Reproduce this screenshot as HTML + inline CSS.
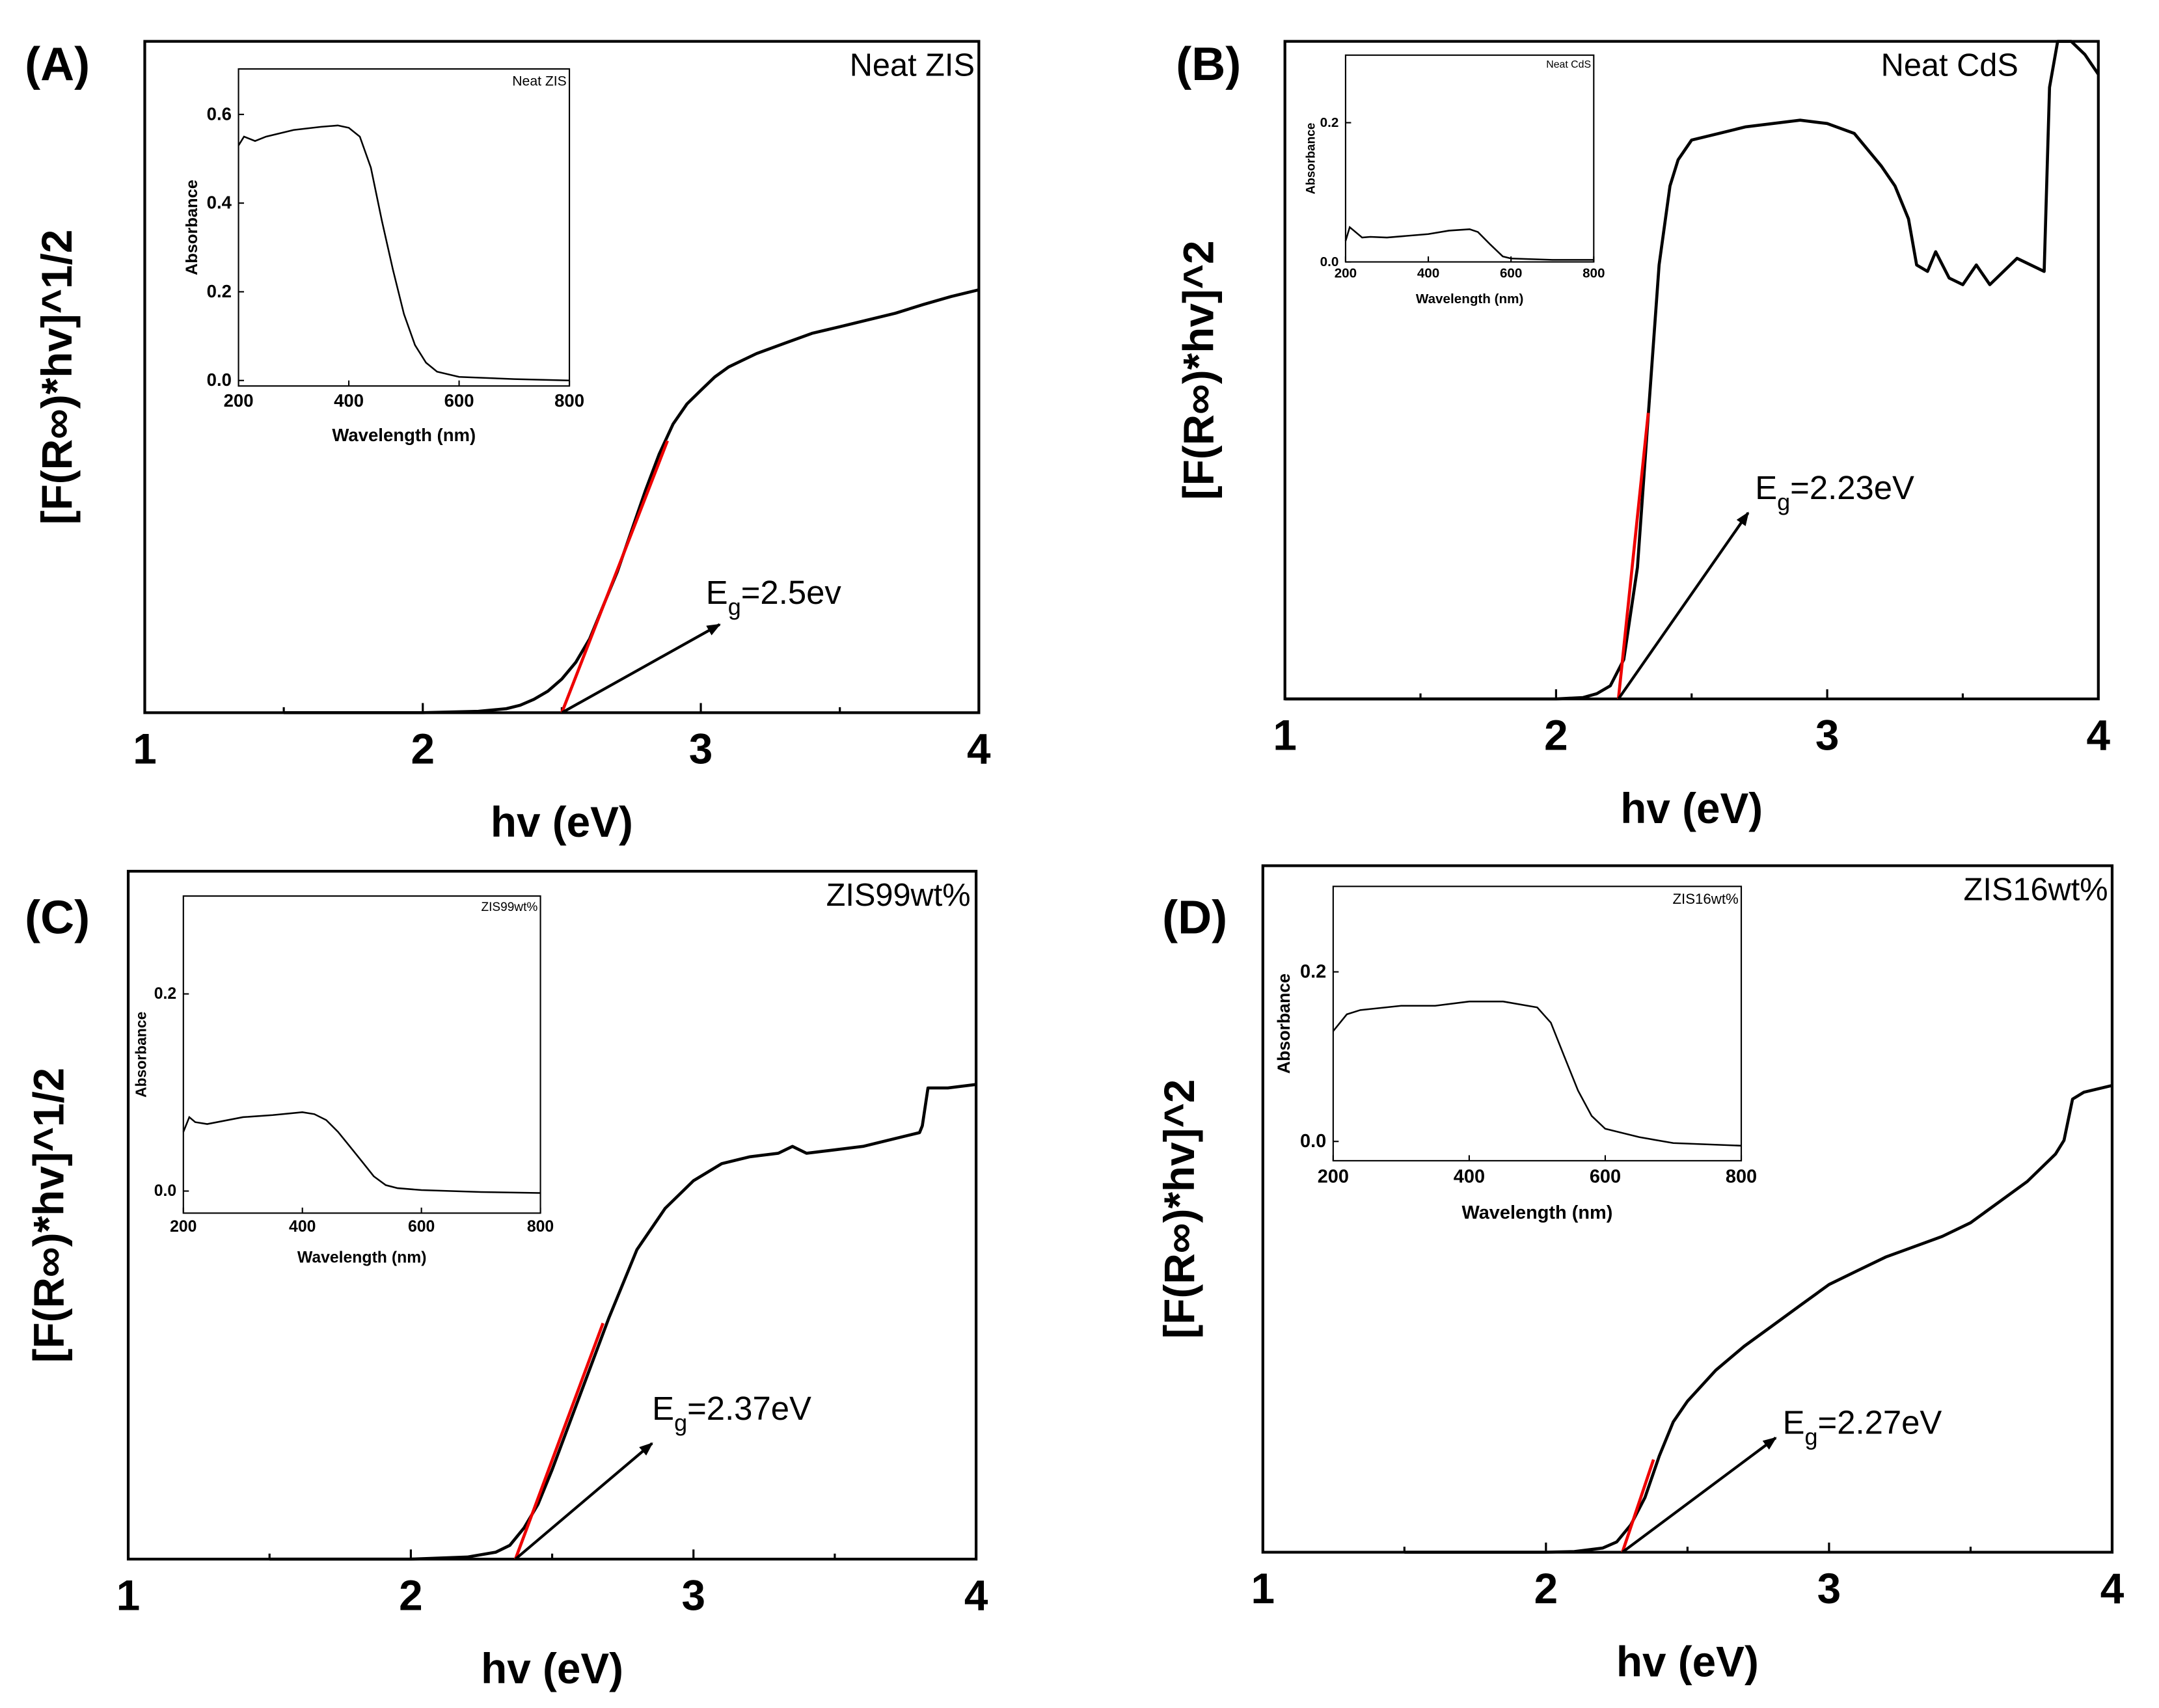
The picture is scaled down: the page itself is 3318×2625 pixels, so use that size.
<!DOCTYPE html>
<html><head><meta charset="utf-8"><style>
html,body{margin:0;padding:0;background:#fff}
svg{display:block}
text{font-family:"Liberation Sans Narrow","Liberation Sans",sans-serif}
</style></head><body>
<svg id="fig" width="3318" height="2625" viewBox="0 0 1566 1239" preserveAspectRatio="none" xmlns="http://www.w3.org/2000/svg">
<defs><marker id="ah" markerWidth="10" markerHeight="8" refX="9" refY="4" orient="auto" markerUnits="userSpaceOnUse"><path d="M0,0 L10,4 L0,8 Z" fill="#000"/></marker></defs>
</svg>
<script>
// ---- data: main panels (x in eV, y normalized 0..1) ----
const aX=[1.5,2.0,2.2,2.3,2.35,2.4,2.45,2.5,2.55,2.6,2.65,2.7,2.75,2.8,2.85,2.9,2.95,3.0,3.05,3.1,3.2,3.3,3.4,3.5,3.6,3.7,3.8,3.9,4.0];
const aY=[0,0,0.002,0.006,0.011,0.02,0.032,0.05,0.075,0.11,0.16,0.21,0.27,0.33,0.385,0.43,0.46,0.48,0.5,0.515,0.535,0.55,0.565,0.575,0.585,0.595,0.608,0.62,0.63];
const bX=[1.0,2.0,2.1,2.15,2.2,2.25,2.3,2.34,2.38,2.42,2.45,2.5,2.6,2.7,2.8,2.9,3.0,3.1,3.2,3.25,3.3,3.33,3.37,3.4,3.45,3.5,3.55,3.6,3.7,3.8,3.82,3.85,3.9,3.95,4.0];
const bY=[0,0,0.002,0.008,0.02,0.06,0.2,0.43,0.66,0.78,0.82,0.85,0.86,0.87,0.875,0.88,0.875,0.86,0.81,0.78,0.73,0.66,0.65,0.68,0.64,0.63,0.66,0.63,0.67,0.65,0.93,1.0,1.0,0.98,0.95];
const cX=[1.5,2.0,2.2,2.3,2.35,2.4,2.45,2.5,2.6,2.7,2.8,2.9,3.0,3.1,3.2,3.3,3.35,3.4,3.5,3.6,3.7,3.8,3.81,3.83,3.9,4.0];
const cY=[0,0,0.003,0.01,0.02,0.045,0.08,0.13,0.24,0.35,0.45,0.51,0.55,0.575,0.585,0.59,0.6,0.59,0.595,0.6,0.61,0.62,0.63,0.685,0.685,0.69];
const dX=[1.5,2.0,2.1,2.2,2.25,2.3,2.35,2.4,2.45,2.5,2.6,2.7,2.8,2.9,3.0,3.1,3.2,3.3,3.4,3.5,3.6,3.7,3.8,3.83,3.86,3.9,4.0];
const dY=[0,0,0.001,0.006,0.015,0.04,0.08,0.14,0.19,0.22,0.265,0.3,0.33,0.36,0.39,0.41,0.43,0.445,0.46,0.48,0.51,0.54,0.58,0.6,0.66,0.67,0.68];
// ---- data: insets (wavelength nm, absorbance) ----
const iaX=[200,210,220,230,250,300,350,380,400,420,440,460,480,500,520,540,560,600,700,800];
const iaY=[0.53,0.55,0.545,0.54,0.55,0.565,0.572,0.575,0.57,0.55,0.48,0.36,0.25,0.15,0.08,0.04,0.02,0.008,0.003,0.0];
const ibX=[200,210,220,240,260,300,400,450,500,520,550,580,600,700,800];
const ibY=[0.03,0.05,0.045,0.035,0.036,0.035,0.04,0.045,0.047,0.043,0.025,0.008,0.005,0.003,0.003];
const icX=[200,210,220,240,300,350,400,420,440,460,480,500,520,540,560,600,700,800];
const icY=[0.06,0.075,0.07,0.068,0.075,0.077,0.08,0.078,0.072,0.06,0.045,0.03,0.015,0.006,0.003,0.001,-0.001,-0.002];
const idX=[200,220,240,300,350,400,450,500,520,540,560,580,600,650,700,800];
const idY=[0.13,0.15,0.155,0.16,0.16,0.165,0.165,0.158,0.14,0.1,0.06,0.03,0.015,0.005,-0.002,-0.005];
// tick labels
const mainTicks=[1,2,3,4];
const insetXTicks=[200,400,600,800];
const iaYTicks=[0.0,0.2,0.4,0.6];
const ibYTicks=[0.0,0.2];

const NS="http://www.w3.org/2000/svg";
const svg=document.getElementById('fig');
function mk(tag,attrs,parent,txt){const e=document.createElementNS(NS,tag);for(const k in attrs)e.setAttribute(k,attrs[k]);if(txt!==undefined)e.textContent=txt;(parent||svg).appendChild(e);return e;}

const panels=[
 {id:'a',L:'(A)',lx:18,ly:58,box:[105,30,710,517],X:aX,Y:aY,ymax:1,fit:[2.5,0,2.88,0.405],eg:2.5,arrow:[522,453],lab:'=2.5ev',labx:512,laby:438,
  ytitle:'[F(R∞)*hv]^1/2',ytx:52,name:'Neat ZIS',namex:707,
  ins:{box:[173,50,413,280],x200:173,x800:413,y0:276,yv:0.6,yvPix:83,X:iaX,Y:iaY,ticks:iaYTicks,fs:1,name:'Neat ZIS'}},
 {id:'b',L:'(B)',lx:853,ly:58,box:[932,30,1522,507],X:bX,Y:bY,ymax:1,fit:[2.23,0,2.34,0.435],eg:2.23,arrow:[1268,372],lab:'=2.23eV',labx:1273,laby:362,
  ytitle:'[F(R∞)*hv]^2',ytx:880,name:'Neat CdS',namex:1464,
  ins:{box:[976,40,1156,190],x200:976,x800:1156,y0:190,yv:0.2,yvPix:89,X:ibX,Y:ibY,ticks:ibYTicks,fs:0.75,name:'Neat CdS'}},
 {id:'c',L:'(C)',lx:18,ly:677,box:[93,632,708,1131],X:cX,Y:cY,ymax:1,fit:[2.37,0,2.68,0.343],eg:2.37,arrow:[473,1047],lab:'=2.37eV',labx:473,laby:1030,
  ytitle:'[F(R∞)*hv]^1/2',ytx:46,name:'ZIS99wt%',namex:704,
  ins:{box:[133,650,392,880],x200:133,x800:392,y0:864,yv:0.2,yvPix:721,X:icX,Y:icY,ticks:ibYTicks,fs:0.9,name:'ZIS99wt%'}},
 {id:'d',L:'(D)',lx:843,ly:677,box:[916,628,1532,1126],X:dX,Y:dY,ymax:1,fit:[2.27,0,2.38,0.135],eg:2.27,arrow:[1288,1043],lab:'=2.27eV',labx:1293,laby:1040,
  ytitle:'[F(R∞)*hv]^2',ytx:866,name:'ZIS16wt%',namex:1529,
  ins:{box:[967,643,1263,842],x200:967,x800:1263,y0:828,yv:0.2,yvPix:705,X:idX,Y:idY,ticks:ibYTicks,fs:1.05,name:'ZIS16wt%'}}
];

panels.forEach(p=>{
  const [x0,y0,x1,y1]=p.box;
  const g=mk('g',{},svg);
  
  
  const sx=v=>x0+(v-1)/3*(x1-x0);
  const sy=v=>y1-v/p.ymax*(y1-y0);
  const pl=mk('text',{x:p.lx,y:p.ly,'font-size':34,'font-weight':'bold'},g,p.L);
  
  const fr=mk('rect',{x:x0,y:y0,width:x1-x0,height:y1-y0,fill:'none',stroke:'#000','stroke-width':2},g);
  
  for(let v=1;v<=4;v+=0.5){mk('line',{x1:sx(v),x2:sx(v),y1:y1,y2:y1-(v%1===0?7:4),stroke:'#000','stroke-width':1.5},g);}
  mainTicks.forEach(v=>{const t=mk('text',{x:sx(v),y:y1+37,'font-size':31,'font-weight':'bold','text-anchor':'middle'},g,String(v));
    });
  const xt=mk('text',{x:(x0+x1)/2,y:y1+90,'font-size':31,'font-weight':'bold','text-anchor':'middle'},g,'hv (eV)');
  
  const yt=mk('text',{x:0,y:0,'font-size':31,'font-weight':'bold','text-anchor':'middle',transform:`translate(${p.ytx},${(y0+y1)/2}) rotate(-90)`},g,p.ytitle);
  
  const nm=mk('text',{x:p.namex,y:y0+25,'font-size':23,'text-anchor':'end'},g,p.name);
  
  const d=p.X.map((v,i)=>(i?'L':'M')+sx(v).toFixed(1)+','+sy(Math.min(p.Y[i],1)).toFixed(1)).join(' ');
  const cv=mk('path',{d:d,fill:'none',stroke:'#000','stroke-width':2.2,'stroke-linejoin':'round'},g);
  
  const fl=mk('line',{x1:sx(p.fit[0]),y1:sy(p.fit[1]),x2:sx(p.fit[2]),y2:sy(p.fit[3]),stroke:'#e00','stroke-width':2.2},g);
  
  const ar=mk('line',{x1:sx(p.eg),y1:y1,x2:p.arrow[0],y2:p.arrow[1],stroke:'#000','stroke-width':2,'marker-end':'url(#ah)'},g);
  
  const eg=mk('text',{x:p.labx,y:p.laby,'font-size':24},g);
  
  mk('tspan',{},eg,'E');mk('tspan',{dy:8,'font-size':17},eg,'g');mk('tspan',{dy:-8},eg,p.lab);
  const q=p.ins;const [ix0,iy0,ix1,iy1]=q.box;const f=q.fs;
  const ig=mk('g',{},g);
  
  mk('rect',{x:ix0,y:iy0,width:ix1-ix0,height:iy1-iy0,fill:'none',stroke:'#000','stroke-width':1},ig);
  const ix=v=>q.x200+(v-200)/600*(q.x800-q.x200);
  const iy=v=>q.y0-v/q.yv*(q.y0-q.yvPix);
  insetXTicks.forEach(v=>{mk('line',{x1:ix(v),x2:ix(v),y1:iy1,y2:iy1-4,stroke:'#000'},ig);
    const t=mk('text',{x:ix(v),y:iy1+15*f,'font-size':13*f,'font-weight':'bold','text-anchor':'middle'},ig,String(v));
    });
  q.ticks.forEach(v=>{mk('line',{x1:ix0,x2:ix0+4,y1:iy(v),y2:iy(v),stroke:'#000'},ig);
    const t=mk('text',{x:ix0-5,y:iy(v)+4*f,'font-size':13*f,'font-weight':'bold','text-anchor':'end'},ig,v.toFixed(1));
    });
  const wt=mk('text',{x:(ix0+ix1)/2,y:iy1+40*f,'font-size':13*f,'font-weight':'bold','text-anchor':'middle'},ig,'Wavelength (nm)');
  
  const at=mk('text',{x:0,y:0,'font-size':12*f,'font-weight':'bold','text-anchor':'middle',transform:`translate(${ix0-30*f},${(iy0+iy1)/2}) rotate(-90)`},ig,'Absorbance');
  
  const inm=mk('text',{x:ix1-2,y:iy0+12*f,'font-size':10*f,'text-anchor':'end'},ig,q.name);
  
  const id=q.X.map((v,i)=>(i?'L':'M')+ix(v).toFixed(1)+','+iy(q.Y[i]).toFixed(1)).join(' ');
  const ic=mk('path',{d:id,fill:'none',stroke:'#000','stroke-width':1.2},ig);
  
});
</script>
</body></html>
